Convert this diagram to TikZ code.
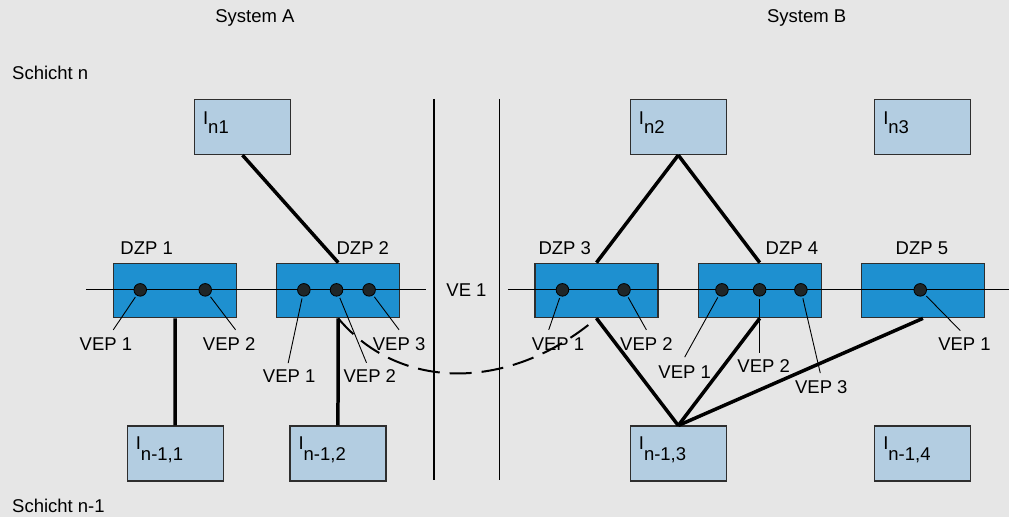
\documentclass[tikz,border=0pt]{standalone}
\usepackage{fontspec}
\setmainfont{Liberation Sans}
\usetikzlibrary{calc}
\definecolor{bgc}{HTML}{E6E6E6}
\definecolor{dzpc}{HTML}{1E90D0}
\definecolor{lboxc}{HTML}{B3CDE1}
\definecolor{brd}{HTML}{2E2E2E}
\definecolor{dotc}{HTML}{1F2628}
\begin{document}
\begin{tikzpicture}[x=1pt,y=-1pt,
  txt/.style={font=\fontsize{18.5}{22}\selectfont, inner sep=0pt, text=black},
  lbox/.style={draw=brd, line width=1.2pt, fill=lboxc, minimum width=96pt, minimum height=55pt, anchor=north west, inner sep=0pt},
  dzp/.style={draw=brd, line width=1.2pt, fill=dzpc, minimum width=123pt, minimum height=54.6pt, anchor=north west, inner sep=0pt},
  dot/.style={circle, draw=black, line width=0.8pt, fill=dotc, minimum size=12.6pt, inner sep=0pt},
  thick link/.style={line width=3.5pt, black},
  lead/.style={line width=0.9pt, black, shorten <=2pt},
  sep/.style={line width=1.2pt, black},
  ilab/.style={txt, anchor=base west}
]
\path[fill=bgc] (0,0) rectangle (1009,517);

% titles
\node[txt] (sa) at (255,18) {System A};
\node[txt] (sb) at (807,18) {System B};
\node[txt, anchor=west] (sn) at (12,73) {Schicht n};
\node[txt, anchor=west] (sn1) at (12,506) {Schicht n-1};

% separators
\coordinate (s1t) at (434.3,99);
\coordinate (s1b) at (434.3,480);
\coordinate (s2t) at (499.5,99);
\coordinate (s2b) at (499.5,480);
\draw[sep] (s1t) -- (s1b);
\draw[sep] (s2t) -- (s2b);

% upper instances
\node[lbox] (in1) at (194,99) {};
\node[lbox] (in2) at (630,99) {};
\node[lbox] (in3) at (874.5,99) {};
% lower instances
\node[lbox] (im1) at (126.7,425.7) {};
\node[lbox] (im2) at (289.5,425.7) {};
\node[lbox] (im3) at (630,425.7) {};
\node[lbox] (im4) at (874.5,425.7) {};

\node[ilab] (tin1) at ($(in1.north west)+(9,25.5)$) {I\raisebox{-9pt}{n1}};
\node[ilab] (tin2) at ($(in2.north west)+(9,25.5)$) {I\raisebox{-9pt}{n2}};
\node[ilab] (tin3) at ($(in3.north west)+(9,25.5)$) {I\raisebox{-9pt}{n3}};
\node[ilab] (tim1) at ($(im1.north west)+(9,24.5)$) {I\raisebox{-11pt}{n-1,1}};
\node[ilab] (tim2) at ($(im2.north west)+(9,24.5)$) {I\raisebox{-11pt}{n-1,2}};
\node[ilab] (tim3) at ($(im3.north west)+(9,24.5)$) {I\raisebox{-11pt}{n-1,3}};
\node[ilab] (tim4) at ($(im4.north west)+(9,24.5)$) {I\raisebox{-11pt}{n-1,4}};

% DZP boxes
\node[dzp] (d1) at (113,262.7) {};
\node[dzp] (d2) at (276.3,262.7) {};
\node[dzp] (d3) at (534.7,262.7) {};
\node[dzp] (d4) at (698,262.7) {};
\node[dzp] (d5) at (861.3,262.7) {};
\node[txt] (ld1) at (146.7,248) {DZP 1};
\node[txt] (ld2) at (363,248) {DZP 2};
\node[txt] (ld3) at (565,248) {DZP 3};
\node[txt] (ld4) at (792.3,248) {DZP 4};
\node[txt] (ld5) at (922.3,248) {DZP 5};

% horizontal line
\coordinate (h1) at (86,290);
\coordinate (h2) at (426,290);
\coordinate (h3) at (508,290);
\coordinate (h4) at (1009,290);
\draw[line width=1pt] (h1) -- (h2);
\draw[line width=1pt] (h3) -- (h4);
\node[txt] (ve) at (466.7,290) {VE 1};

% thick links
\draw[thick link] (in1.south) -- (d2.north);
\draw[thick link] (d1.south) -- (im1.north);
\draw[thick link] (d2.south) -- (im2.north);
\draw[thick link] (in2.south) -- (d3.north);
\draw[thick link] (in2.south) -- (d4.north);
\draw[thick link] (d3.south) -- (im3.north);
\draw[thick link] (d4.south) -- (im3.north);
\draw[thick link] (d5.south) -- (im3.north);

% dashed curve
\draw[line width=2pt, dash pattern=on 22pt off 10pt] (d2.south) .. controls (400,392) and (510,392) .. (d3.south);

% dots
\node[dot] (p11) at (140.3,290) {};
\node[dot] (p12) at (205.3,290) {};
\node[dot] (p21) at (304,290) {};
\node[dot] (p22) at (336.7,290) {};
\node[dot] (p23) at (369.3,290) {};
\node[dot] (p31) at (562.7,290) {};
\node[dot] (p32) at (624.3,290) {};
\node[dot] (p41) at (722.3,290) {};
\node[dot] (p42) at (760,290) {};
\node[dot] (p43) at (801.3,290) {};
\node[dot] (p51) at (920.7,290) {};

% VEP labels
\node[txt] (v11) at (106,344.3) {VEP 1};
\node[txt] (v12) at (229.3,344.3) {VEP 2};
\node[txt] (v21) at (289.3,376.7) {VEP 1};
\node[txt] (v22) at (370,376.7) {VEP 2};
\node[txt] (v23) at (399.3,344.3) {VEP 3};
\node[txt] (v31) at (558.3,344.3) {VEP 1};
\node[txt] (v32) at (646.7,344.3) {VEP 2};
\node[txt] (v41) at (685,372.7) {VEP 1};
\node[txt] (v42) at (764,366.7) {VEP 2};
\node[txt] (v43) at (821.7,387.7) {VEP 3};
\node[txt] (v51) at (965,344.3) {VEP 1};

\coordinate (e11) at (113.3,330);
\coordinate (e12) at (235.7,330);
\coordinate (e21) at (288.3,363.3);
\coordinate (e22) at (366.7,363);
\coordinate (e23) at (399.3,330);
\coordinate (e31) at (549,330);
\coordinate (e32) at (646.7,330);
\coordinate (e41) at (685,357.3);
\coordinate (e42) at (760,352.7);
\coordinate (e43) at (820.7,373.3);
\coordinate (e51) at (960.7,330.7);

\draw[lead] (p11) -- (e11);
\draw[lead] (p12) -- (e12);
\draw[lead] (p21) -- (e21);
\draw[lead] (p22) -- (e22);
\draw[lead] (p23) -- (e23);
\draw[lead] (p31) -- (e31);
\draw[lead] (p32) -- (e32);
\draw[lead] (p41) -- (e41);
\draw[lead] (p42) -- (e42);
\draw[lead] (p43) -- (e43);
\draw[lead] (p51) -- (e51);
\end{tikzpicture}
\end{document}
